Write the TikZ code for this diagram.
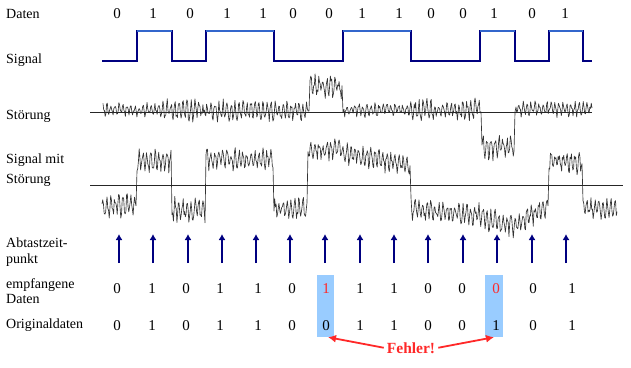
\documentclass[tikz,border=0pt]{standalone}
\usepackage{fontspec}
\setmainfont{Liberation Serif}
\usetikzlibrary{arrows.meta}

\definecolor{navy}{RGB}{0,0,128}
\definecolor{sighigh}{RGB}{51,102,204}
\definecolor{markblau}{RGB}{153,204,255}
\definecolor{fehlerrot}{RGB}{255,40,40}

% zitterndes Rauschen: Schwingung plus Zufall
\pgfmathdeclarefunction{zz}{1}{\pgfmathparse{0.65*sin(mod(#1,36)*90)+0.45*rand}}

\begin{document}
\begin{tikzpicture}[x=1pt, y=-1pt,
    lbl/.style={anchor=base west, inner sep=0pt, font=\fontsize{14}{16}\selectfont},
    bit/.style={anchor=base, inner sep=0pt, font=\fontsize{15}{18}\selectfont},
    noisy/.style={black!80, line width=0.65pt, line join=round},
    achse/.style={black!85, line width=0.9pt},
    abtast/.style={navy, line width=2pt, -{Latex[length=6pt,width=7pt]}},
    fehlerpfeil/.style={fehlerrot, line width=1.8pt, -{Latex[length=8pt,width=8pt]}},
    markbox/.style={fill=markblau, draw=none, minimum width=17pt, minimum height=62pt, inner sep=0pt}]

\useasboundingbox (0,0) rectangle (631,367);

% labels on the left
\node[lbl] (lblDaten) at (6,18) {Daten};
\node[lbl] (lblSignal) at (6,63) {Signal};
\node[lbl] (lblStoerung) at (6,119) {Störung};
\node[lbl] (lblSigMit) at (6,163) {Signal mit};
\node[lbl] (lblSigMit2) at (6,183) {Störung};
\node[lbl] (lblAbtast) at (6,247) {Abtastzeit-};
\node[lbl] (lblAbtast2) at (6,263) {punkt};
\node[lbl] (lblEmpf) at (6,288) {empfangene};
\node[lbl] (lblEmpf2) at (6,303) {Daten};
\node[lbl] (lblOrig) at (6,328) {Originaldaten};

% data bits
\node[bit] (d0) at (117,18) {0};
\node[bit] (d1) at (153,18) {1};
\node[bit] (d2) at (190,18) {0};
\node[bit] (d3) at (227,18) {1};
\node[bit] (d4) at (263,18) {1};
\node[bit] (d5) at (293,18) {0};
\node[bit] (d6) at (329,18) {0};
\node[bit] (d7) at (362,18) {1};
\node[bit] (d8) at (399,18) {1};
\node[bit] (d9) at (431,18) {0};
\node[bit] (d10) at (463,18) {0};
\node[bit] (d11) at (494,18) {1};
\node[bit] (d12) at (532,18) {0};
\node[bit] (d13) at (565,18) {1};

% signal
\draw[navy, line width=1.2pt] (102,61) -- (137,61) -- (137,31) -- (172,31) -- (172,61) -- (206,61) -- (206,31)
  -- (274,31) -- (274,61) -- (343,61) -- (343,31) -- (411,31) -- (411,61) -- (480,61) -- (480,31)
  -- (515,31) -- (515,61) -- (549,61) -- (549,31) -- (583,31) -- (583,61) -- (592,61);
\draw[sighigh, line width=1.2pt] (137,31) -- (172,31);
\draw[sighigh, line width=1.2pt] (206,31) -- (274,31);
\draw[sighigh, line width=1.2pt] (343,31) -- (411,31);
\draw[sighigh, line width=1.2pt] (480,31) -- (515,31);
\draw[sighigh, line width=1.2pt] (549,31) -- (583,31);

\pgfmathsetseed{2718}
% Stoerung
\draw[noisy] plot[domain=103:160, samples=80] (\x,{110+7*zz(\x)})
  -- plot[domain=160:232, samples=100] (\x,{111+12*zz(\x)})
  -- plot[domain=232:308, samples=105] (\x,{111+11*zz(\x)})
  -- (309,111) -- plot[domain=310:342, samples=45] (\x,{86+13*zz(\x)})
  -- (343,112) -- plot[domain=344:410, samples=95] (\x,{110+7*zz(\x)})
  -- plot[domain=410:480, samples=100] (\x,{110+11*zz(\x)})
  -- (481,112) -- plot[domain=482:514, samples=45] (\x,{147+14*zz(\x)})
  -- (515,112) -- plot[domain=516:592, samples=105] (\x,{109+8*zz(\x)});
\draw[achse] (90,112) -- (592,112);

% Signal mit Stoerung
\draw[noisy] plot[domain=102:136, samples=48] (\x,{206+12*zz(\x)})
  -- plot[domain=137:171, samples=48] (\x,{161+12*zz(\x)})
  -- plot[domain=172:205, samples=48] (\x,{210+13*zz(\x)})
  -- plot[domain=206:273, samples=95] (\x,{159+11*zz(\x)})
  -- plot[domain=274:307, samples=48] (\x,{208+12*zz(\x)})
  -- plot[domain=308:342, samples=48] (\x,{150+11*zz(\x)})
  -- plot[domain=343:410, samples=95] (\x,{152+(\x-343)*0.22+12*zz(\x)})
  -- plot[domain=411:479, samples=95] (\x,{210+(\x-411)*0.08+12*zz(\x)})
  -- plot[domain=480:514, samples=48] (\x,{218+(\x-480)*0.25+12*zz(\x)})
  -- plot[domain=515:548, samples=48] (\x,{226-(\x-515)*0.6+12*zz(\x)})
  -- plot[domain=549:582, samples=48] (\x,{162+12*zz(\x)})
  -- plot[domain=583:617, samples=48] (\x,{208+12*zz(\x)});
\draw[achse] (90,185) -- (623,185);

% Abtastzeitpunkte
\coordinate (a0) at (119,263); \coordinate (a0t) at (119,234);
\coordinate (a1) at (153,263); \coordinate (a1t) at (153,234);
\coordinate (a2) at (188,263); \coordinate (a2t) at (188,234);
\coordinate (a3) at (222,263); \coordinate (a3t) at (222,234);
\coordinate (a4) at (256,263); \coordinate (a4t) at (256,234);
\coordinate (a5) at (290,263); \coordinate (a5t) at (290,234);
\coordinate (a6) at (325,263); \coordinate (a6t) at (325,234);
\coordinate (a7) at (360,263); \coordinate (a7t) at (360,234);
\coordinate (a8) at (394,263); \coordinate (a8t) at (394,234);
\coordinate (a9) at (428,263); \coordinate (a9t) at (428,234);
\coordinate (a10) at (463,263); \coordinate (a10t) at (463,234);
\coordinate (a11) at (497,263); \coordinate (a11t) at (497,234);
\coordinate (a12) at (532,263); \coordinate (a12t) at (532,234);
\coordinate (a13) at (566,263); \coordinate (a13t) at (566,234);
\draw[abtast] (a0) -- (a0t);
\draw[abtast] (a1) -- (a1t);
\draw[abtast] (a2) -- (a2t);
\draw[abtast] (a3) -- (a3t);
\draw[abtast] (a4) -- (a4t);
\draw[abtast] (a5) -- (a5t);
\draw[abtast] (a6) -- (a6t);
\draw[abtast] (a7) -- (a7t);
\draw[abtast] (a8) -- (a8t);
\draw[abtast] (a9) -- (a9t);
\draw[abtast] (a10) -- (a10t);
\draw[abtast] (a11) -- (a11t);
\draw[abtast] (a12) -- (a12t);
\draw[abtast] (a13) -- (a13t);

% markierte Fehler
\node[markbox] (err6) at (325,306) {};
\node[markbox, minimum width=18pt] (err11) at (494,306) {};

% empfangene Daten
\node[bit] (r0) at (117,293) {0};
\node[bit] (r1) at (152,293) {1};
\node[bit] (r2) at (186,293) {0};
\node[bit] (r3) at (220,293) {1};
\node[bit] (r4) at (258,293) {1};
\node[bit] (r5) at (292,293) {0};
\node[bit, text=fehlerrot] (r6) at (326,293) {1};
\node[bit] (r7) at (360,293) {1};
\node[bit] (r8) at (394,293) {1};
\node[bit] (r9) at (428,293) {0};
\node[bit] (r10) at (462,293) {0};
\node[bit, text=fehlerrot] (r11) at (496,293) {0};
\node[bit] (r12) at (533,293) {0};
\node[bit] (r13) at (572,293) {1};

% Originaldaten
\node[bit] (o0) at (117,330) {0};
\node[bit] (o1) at (152,330) {1};
\node[bit] (o2) at (186,330) {0};
\node[bit] (o3) at (220,330) {1};
\node[bit] (o4) at (258,330) {1};
\node[bit] (o5) at (292,330) {0};
\node[bit] (o6) at (326,330) {0};
\node[bit] (o7) at (360,330) {1};
\node[bit] (o8) at (394,330) {1};
\node[bit] (o9) at (428,330) {0};
\node[bit] (o10) at (462,330) {0};
\node[bit] (o11) at (496,330) {1};
\node[bit] (o12) at (533,330) {0};
\node[bit] (o13) at (572,330) {1};

\node[anchor=base, inner sep=3pt, text=fehlerrot, font=\fontsize{15.5}{18}\selectfont\bfseries] (fehler) at (411,353) {Fehler!};
\draw[fehlerpfeil] (fehler.west) -- ([xshift=3pt]err6.south);
\draw[fehlerpfeil] (fehler.east) -- (err11.south);

\end{tikzpicture}
\end{document}
